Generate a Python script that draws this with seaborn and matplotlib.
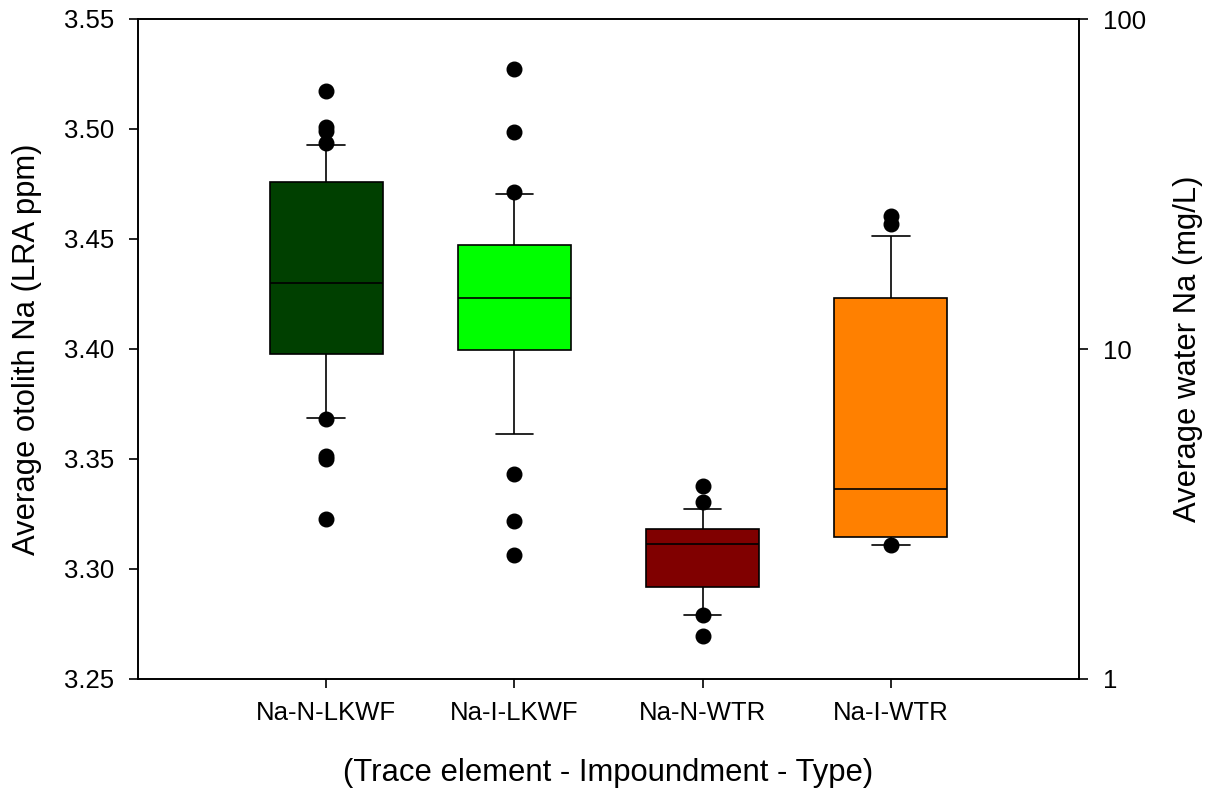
import matplotlib
matplotlib.use("Agg")
import matplotlib.pyplot as plt
from matplotlib.ticker import FixedLocator, NullLocator
import seaborn as sns
import pandas as pd
import numpy as np

# Categories and box colours
groups = ["Na-N-LKWF", "Na-I-LKWF", "Na-N-WTR", "Na-I-WTR"]
box_colors = ["#004000", "#00ff00", "#800000", "#ff8000"]

# Otolith Na (LRA ppm): 10th pct, Q1, median, Q3, 90th pct, plus points beyond the whiskers
oto_n_stats = [3.3686, 3.3976, 3.4300, 3.4759, 3.4927]
oto_n_low = [3.3229, 3.3500, 3.3515, 3.3683]
oto_n_high = [3.4938, 3.4992, 3.5010, 3.5174]

oto_i_stats = [3.3615, 3.3997, 3.4233, 3.4473, 3.4706]
oto_i_low = [3.3062, 3.3217, 3.3432]
oto_i_high = [3.4715, 3.4986, 3.5273]

# Water Na (mg/L), same layout
wtr_n_stats = [1.563, 1.896, 2.559, 2.842, 3.283]
wtr_n_low = [1.353, 1.560]
wtr_n_high = [3.446, 3.845]

wtr_i_stats = [2.547, 2.700, 3.774, 14.31, 21.95]
wtr_i_low = [2.544]
wtr_i_high = [23.87, 25.29]

left_ticks = [3.25, 3.30, 3.35, 3.40, 3.45, 3.50, 3.55]
right_ticks = [1, 10, 100]


def sample(stats, low, high):
    """41-value sample whose 10/25/50/75/90th percentiles are exactly `stats`."""
    lo, q1, med, q3, hi = stats
    low = sorted(low) + [lo] * (4 - len(low))
    high = [hi] * (4 - len(high)) + sorted(high)
    return low + [lo] * 6 + [q1] * 10 + [med] + [q3] * 10 + [hi] * 6 + high


def frame(pairs):
    rows = []
    for name, vals in pairs:
        rows += [(name, v) for v in vals]
    return pd.DataFrame(rows, columns=["group", "value"])


oto = frame([(groups[0], sample(oto_n_stats, oto_n_low, oto_n_high)),
             (groups[1], sample(oto_i_stats, oto_i_low, oto_i_high))])
wtr = frame([(groups[2], sample(wtr_n_stats, wtr_n_low, wtr_n_high)),
             (groups[3], sample(wtr_i_stats, wtr_i_low, wtr_i_high))])

sns.set_theme(style="ticks", rc={
    "axes.edgecolor": "black", "axes.labelcolor": "black", "text.color": "black",
    "xtick.color": "black", "ytick.color": "black", "axes.linewidth": 1.2,
})
plt.rcParams["font.family"] = ["Liberation Sans", "DejaVu Sans"]

fig = plt.figure(figsize=(12.18, 7.94), dpi=100)
ax = fig.add_axes([138 / 1218, 1 - 679 / 794, (1079 - 138) / 1218, (679 - 19) / 794])
ax2 = ax.twinx()
ax2.set_yscale("log")

palette = dict(zip(groups, box_colors))
box_kws = dict(x="group", y="value", order=groups, hue="group", hue_order=groups,
               palette=palette, legend=False, width=0.6, whis=(10, 90),
               saturation=1, linecolor="black", linewidth=1.2, fliersize=10.5,
               flierprops=dict(marker="o", markerfacecolor="black",
                               markeredgecolor="black"),
               capwidths=0.2)

sns.boxplot(data=oto, ax=ax, **box_kws)
sns.boxplot(data=wtr, ax=ax2, **box_kws)

ax.set_xlim(-1, 4)
ax.set_ylim(3.25, 3.55)
ax2.set_ylim(1, 100)

ax.xaxis.set_major_locator(FixedLocator(range(len(groups))))
ax.set_xticklabels(groups)
ax.yaxis.set_major_locator(FixedLocator(left_ticks))
ax.set_yticklabels([f"{t:.2f}" for t in left_ticks])
ax2.yaxis.set_major_locator(FixedLocator(right_ticks))
ax2.yaxis.set_minor_locator(NullLocator())
ax2.set_yticklabels([str(t) for t in right_ticks])

for a in (ax, ax2):
    for s in a.spines.values():
        s.set_visible(True)
        s.set_linewidth(1.2)
        s.set_color("black")
    a.grid(False)

ax.tick_params(axis="both", which="major", direction="out", length=6.5,
               width=1.2, labelsize=18.5, pad=10.5)
ax.tick_params(axis="x", top=False, pad=9)
ax2.tick_params(axis="y", which="major", direction="out", length=6.5,
                width=1.2, labelsize=18.5, pad=10.5)

ax.set_xlabel("(Trace element - Impoundment - Type)", fontsize=22.3)
ax.set_ylabel("Average otolith Na (LRA ppm)", fontsize=22.3)
ax2.set_ylabel("Average water Na (mg/L)", fontsize=22.3)
ax.xaxis.set_label_coords(0.5, (679 - 758) / 660)
ax.yaxis.set_label_coords((42 - 138) / 941, 0.5)
ax2.yaxis.set_label_coords((1173 - 138) / 941, 0.5)

fig.savefig("out.png", dpi=100)
